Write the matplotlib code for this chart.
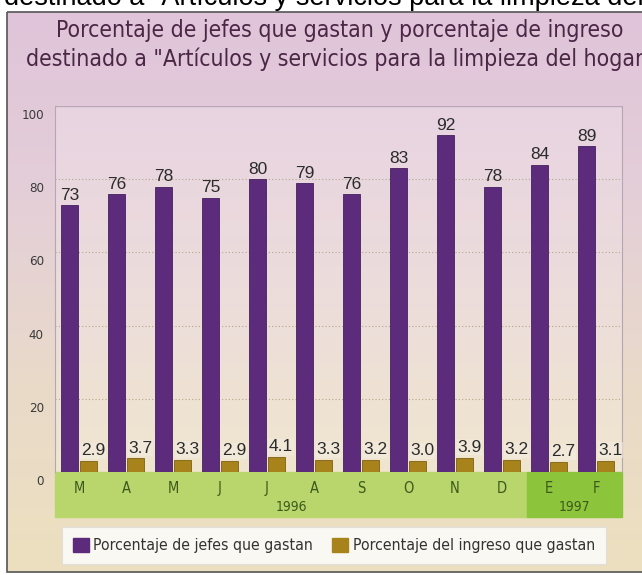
import numpy as np
import matplotlib.pyplot as plt
from matplotlib.patches import Rectangle
from matplotlib.colors import LinearSegmentedColormap
from matplotlib.transforms import ScaledTranslation

# datos
meses = ["M", "A", "M", "J", "J", "A", "S", "O", "N", "D", "E", "F"]
jefes = [73, 76, 78, 75, 80, 79, 76, 83, 92, 78, 84, 89]
ingreso = [2.9, 3.7, 3.3, 2.9, 4.1, 3.3, 3.2, 3.0, 3.9, 3.2, 2.7, 3.1]
anios = ["1996", "1997"]
yticks = [0, 20, 40, 60, 80, 100]

titulo = ('Porcentaje de jefes que gastan y porcentaje de ingreso\n'
          'destinado a "Artículos y servicios para la limpieza del hogar"')
etiquetas = ["Porcentaje de jefes que gastan", "Porcentaje del ingreso que gastan"]

plain = ["Liberation Sans", "DejaVu Sans"]
cond = dict(family="DejaVu Sans", stretch="condensed")

c_morado = "#5c2b7b"
c_oro = "#a8831c"
c_verde = "#b8d66c"
c_verde2 = "#8cc43c"
c_txt_verde = "#3d5a1c"

W, H = 642, 575
fig = plt.figure(figsize=(W / 100, H / 100), dpi=100)
fig.patch.set_facecolor("white")

# fondo degradado de la caja
bg = fig.add_axes([0, 0, 1, 1], zorder=-10)
bg.set_xlim(0, W)
bg.set_ylim(H, 0)
bg.axis("off")
cm_bg = LinearSegmentedColormap.from_list("bg", ["#e0c4da", "#e4cfd8", "#e9dac9", "#ece0bf"])
grad = np.linspace(0, 1, 256).reshape(-1, 1)
bg.imshow(grad, cmap=cm_bg, aspect="auto", extent=[7, W + 5, 572, 12], zorder=0)
bg.add_patch(Rectangle((7, 12), W, 560, fill=False, edgecolor="#555555", lw=1.2, zorder=2))

# texto cortado de arriba (recorte de la pagina)
bg.text(4, 5, 'destinado a "Artículos y servicios para la limpieza del hogar"',
        fontsize=19.5, family=plain, color="black", va="baseline", ha="left", zorder=3)

# titulo
bg.text(340, 19, titulo, fontsize=16.5, color="#4b2746", ha="center", va="top",
        linespacing=1.3, zorder=3, **cond)

# area del grafico
ax = fig.add_axes([55 / W, 1 - 472 / H, 567 / W, 366 / H])
x = np.arange(len(meses))
ax.set_xlim(-0.51, 11.55)
ax.set_ylim(0, 100)
ax.set_facecolor("none")
cm_ax = LinearSegmentedColormap.from_list("ax", ["#e8d4e2", "#ecdcdb", "#f0e6cf"])
ax.imshow(grad, cmap=cm_ax, aspect="auto", extent=[-0.51, 11.55, 0, 100], zorder=0)

for yy in yticks[1:-1]:
    ax.axhline(yy, color="#b9a58c", lw=0.8, ls=(0, (1, 2)), zorder=1)
ax.axhline(100, color="#b7a7b7", lw=1.0, zorder=1)

ax.bar(x - 0.2, jefes, width=0.36, color=c_morado, edgecolor="#46205f", lw=0.6, zorder=3)
ax.bar(x + 0.2, ingreso, width=0.37, color=c_oro, edgecolor="#7d6010", lw=0.6, zorder=3)

for xi, v in zip(x, jefes):
    ax.text(xi - 0.2, v + 0.6, str(v), ha="center", va="bottom", fontsize=12.5,
            family=plain, color="#2b2b2b", zorder=4)
for xi, v in zip(x, ingreso):
    ax.text(xi + 0.3, v + 0.8, f"{v:.1f}", ha="center", va="bottom", fontsize=12.5,
            family=plain, color="#2b2b2b", zorder=4,
            bbox=dict(boxstyle="square,pad=0.03", fc="#f3ece0", ec="none", alpha=0.6))

# banda de meses y años
limites = [(-0.51, 9.53), (9.53, 11.55)]
for anio, (ini, fin), col in zip(anios, limites, [c_verde, c_verde2]):
    ax.add_patch(Rectangle((ini, -12.3), fin - ini, 12.3, color=col,
                           clip_on=False, zorder=2))
    ax.text((ini + fin) / 2, -9.6, anio, ha="center", va="center", fontsize=10,
            color=c_txt_verde, clip_on=False, **cond)
for xi, m in zip(x, meses):
    ax.text(xi, -4.4, m, ha="center", va="center", fontsize=10.5,
            color=c_txt_verde, clip_on=False, **cond)

ax.set_xticks([])
ax.set_yticks(yticks)
ax.set_yticklabels([str(t) for t in yticks], fontsize=9.5, color="#3a3a3a", **cond)
ax.tick_params(axis="y", length=0, pad=8)
offset = ScaledTranslation(0, -8 / 100, fig.dpi_scale_trans)
for lab in ax.get_yticklabels():
    lab.set_transform(lab.get_transform() + offset)
for s in ["top", "bottom"]:
    ax.spines[s].set_visible(False)
for s in ["left", "right"]:
    ax.spines[s].set_color("#b5a5b5")
    ax.spines[s].set_linewidth(0.8)

# leyenda
h1 = Rectangle((0, 0), 1, 1, color=c_morado)
h2 = Rectangle((0, 0), 1, 1, color=c_oro)
leg = fig.legend([h1, h2], etiquetas, ncol=2, mode="expand",
                 bbox_to_anchor=(62 / W, 1 - 564 / H, 544 / W, 37 / H), loc="center",
                 prop=dict(size=11.3, **cond), frameon=True, fancybox=False,
                 handlelength=1.0, handleheight=1.0, handletextpad=0.3,
                 borderaxespad=0, borderpad=0.7, columnspacing=1.5)
for t in leg.get_texts():
    t.set_color("#333333")
leg.get_frame().set_facecolor("white")
leg.get_frame().set_edgecolor("#dddddd")
leg.get_frame().set_linewidth(0.8)

fig.savefig("out.png", dpi=100)
